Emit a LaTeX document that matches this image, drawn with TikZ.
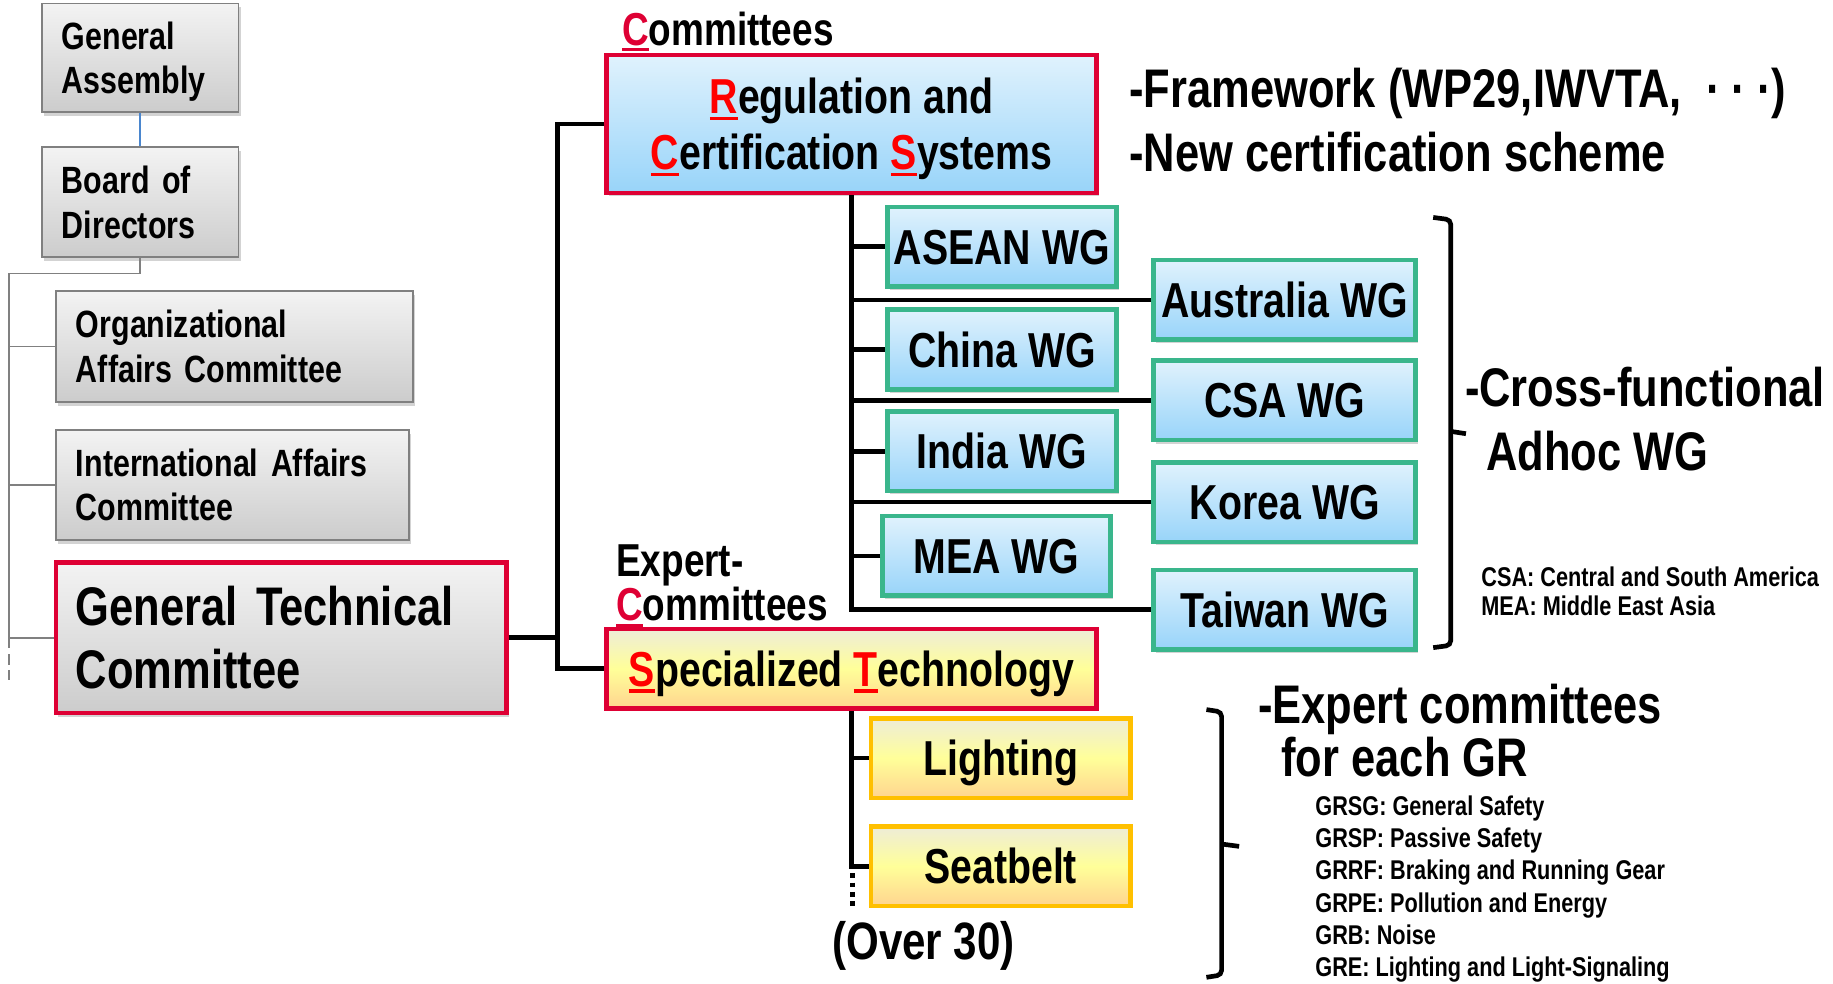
\documentclass[tikz,border=0pt]{standalone}
\usepackage{fontspec}
\setmainfont{Liberation Sans}[FakeStretch=0.80]
\usepackage{xcolor}
\usepackage{tikz}
\usetikzlibrary{shadows}
\definecolor{jasicred}{RGB}{222,0,52}
\definecolor{markred}{RGB}{255,0,0}
\definecolor{wggreen}{RGB}{58,182,140}
\definecolor{grgold}{RGB}{255,192,0}
\definecolor{boxgray}{RGB}{128,128,128}
\definecolor{boxtop}{RGB}{243,243,243}
\definecolor{boxbot}{RGB}{204,204,204}
\definecolor{skytop}{RGB}{224,242,253}
\definecolor{skybot}{RGB}{152,212,249}
\definecolor{sandtop}{RGB}{238,236,216}
\definecolor{sandmid}{RGB}{255,255,153}
\definecolor{sandbot}{RGB}{255,212,143}
\definecolor{linkblue}{RGB}{74,134,206}

% red initial with underline
\newcommand{\capmark}[2][markred]{{\color{#1}\setbox0=\hbox{#2}\rlap{\rule[-0.13em]{\wd0}{0.07em}}\box0}}

\begin{document}
\begin{tikzpicture}[
    x=1pt, y=-1pt,
    orgbox/.style={draw=boxgray, line width=1.5pt, top color=boxtop, bottom color=boxbot,
        drop shadow={opacity=0.35, shadow xshift=2pt, shadow yshift=-3pt},
        inner xsep=17pt, align=left, font=\fontsize{32.5}{38}\selectfont\bfseries},
    keybox/.style={orgbox, draw=jasicred, line width=4pt, font=\fontsize{46.5}{54}\selectfont\bfseries},
    rcsbox/.style={draw=jasicred, line width=4pt, top color=skytop, bottom color=skybot,
        drop shadow={opacity=0.35, shadow xshift=2pt, shadow yshift=-3pt},
        minimum width=419pt, minimum height=118pt},
    rcstext/.style={align=center, inner sep=0pt, font=\fontsize{42}{48}\selectfont\bfseries},
    wgbox/.style={draw=wggreen, line width=4pt, top color=skytop, bottom color=skybot,
        drop shadow={opacity=0.35, shadow xshift=2pt, shadow yshift=-3pt},
        minimum height=68pt, inner sep=0pt, text height=30pt, text depth=0pt,
        font=\fontsize{42}{46}\selectfont\bfseries},
    stbox/.style={draw=jasicred, line width=4pt, top color=sandtop, bottom color=sandbot, middle color=sandmid,
        minimum width=419pt, minimum height=68pt, inner sep=0pt, text height=30pt, text depth=0pt,
        font=\fontsize{42}{46}\selectfont\bfseries},
    grbox/.style={stbox, draw=grgold, minimum width=222pt},
    bus/.style={line width=4pt, black},
    thinlink/.style={line width=1.5pt, boxgray},
    tag/.style={inner sep=0pt, anchor=west, align=left, font=\fontsize{39.5}{38}\selectfont\bfseries},
    note/.style={inner sep=0pt, anchor=west, align=left, font=\fontsize{46.5}{55}\selectfont\bfseries},
    fine/.style={inner sep=0pt, anchor=west, align=left, font=\fontsize{23.2}{25}\selectfont\bfseries}
]
    \useasboundingbox (0,0) rectangle (1568,841);

    % Left column
    \node[orgbox, text width=134pt, minimum height=93pt, text depth=38pt] (ga) at (120,49.5) {General\\Assembly};
    \node[orgbox, text width=134pt, minimum height=94pt] (bod) at (120,173) {Board of\\Directors};
    \node[orgbox, text width=271pt, minimum height=95pt] (oac) at (200.5,296.5) {Organizational\\Affairs Committee};
    \node[orgbox, text width=268pt, minimum height=94pt] (iac) at (199,415) {International Affairs\\Committee};
    \node[keybox, text width=351pt, minimum height=129pt] (gtc) at (240.5,545.5) {General Technical\\Committee};

    \coordinate (lbus) at (8,234);
    \draw[thinlink, linkblue] (ga) -- (bod);
    \draw[thinlink] (bod.south) |- (lbus) -- (lbus |- gtc.west);
    \foreach \n in {oac,iac,gtc}
        \draw[thinlink] (\n.west) -- (\n.west -| lbus);
    \draw[thinlink, dash pattern=on 9pt off 5pt] (lbus |- gtc.west) -- ++(0,36);

    % Committees
    \node[tag] (comlabel) at (532,27) {\capmark[jasicred]{C}ommittees};
    \node[rcsbox] (rcs) at (728.5,106) {};
    \node[rcstext] (rcslabel) at ([yshift=-4.5pt]rcs.center) {\capmark{R}egulation and\\\capmark{C}ertification \capmark{S}ystems};
    \node[tag] (explabel) at (527,501) {Expert-\\\capmark[jasicred]{C}ommittees};
    \node[stbox] (st) at (728.5,572) {\capmark{S}pecialized \capmark{T}echnology};

    \coordinate (mbus) at (477,0);
    \draw[bus] (gtc.east) -- (gtc.east -| mbus);
    \draw[bus] (rcs.west) -| (mbus |- st.west) -- (st.west);

    % Working groups
    \node[wgbox, minimum width=196pt] (asean) at (857,211) {ASEAN WG};
    \node[wgbox, minimum width=224pt] (australia) at (1099,256.5) {Australia WG};
    \node[wgbox, minimum width=196pt] (china) at (857,299) {China WG};
    \node[wgbox, minimum width=224pt] (csa) at (1099,342.5) {CSA WG};
    \node[wgbox, minimum width=196pt] (india) at (857,386) {India WG};
    \node[wgbox, minimum width=224pt] (korea) at (1099,429.5) {Korea WG};
    \node[wgbox, minimum width=195pt] (mea) at (852.5,475.5) {MEA WG};
    \node[wgbox, minimum width=224pt] (taiwan) at (1099,521.5) {Taiwan WG};

    \draw[bus] (rcs.south) |- (taiwan.west);
    \foreach \wg in {asean,australia,china,csa,india,korea,mea}
        \draw[bus] (\wg.west) -- (\wg.west -| rcs.south);

    % Expert committees
    \node[grbox] (lighting) at (856,648.5) {Lighting};
    \node[grbox] (seatbelt) at (856,741) {Seatbelt};
    \coordinate (more) at (729,778);
    \draw[bus] (st.south) |- (seatbelt.west);
    \draw[bus] (lighting.west) -- (lighting.west -| st.south);
    \draw[bus, dash pattern=on 4pt off 4pt] (more |- seatbelt.west) ++(0,6) -- (more);
    \node[font=\fontsize{45}{48}\selectfont\bfseries, inner sep=0pt] (over) at (790,809) {(Over 30)};

    % Notes on the right
    \node[note] (rcsnote) at (966,102.5) {-Framework (WP29,IWVTA,\hspace{0.45em}·\hspace{0.2em}·\hspace{0.2em}·)\\-New certification scheme};
    \draw[bus, rounded corners=4pt] (1226,186) -- (1241,188) -- (1241,552) -- (1226,554);
    \draw[bus] (1241,369) -- (1254,371);
    \node[note] (wgnote) at (1253,358.5) {-Cross-functional\\\hspace*{18pt}Adhoc WG};
    \node[fine] (wgabbr) at (1267,505.5) {CSA: Central and South America\\MEA: Middle East Asia};

    \draw[bus, rounded corners=4pt] (1032,607) -- (1045,609) -- (1045,834) -- (1032,836);
    \draw[bus] (1045,722) -- (1060,724);
    \node[note, font=\fontsize{46.5}{46}\selectfont\bfseries] (grnote) at (1076,625) {-Expert committees\\\hspace*{20pt}for each GR};
    \node[fine, font=\fontsize{23.2}{27.4}\selectfont\bfseries] (grlist) at (1125,760.5)
        {GRSG: General Safety\\GRSP: Passive Safety\\GRRF: Braking and Running Gear\\GRPE: Pollution and Energy\\GRB: Noise\\GRE: Lighting and Light-Signaling};
\end{tikzpicture}
\end{document}
